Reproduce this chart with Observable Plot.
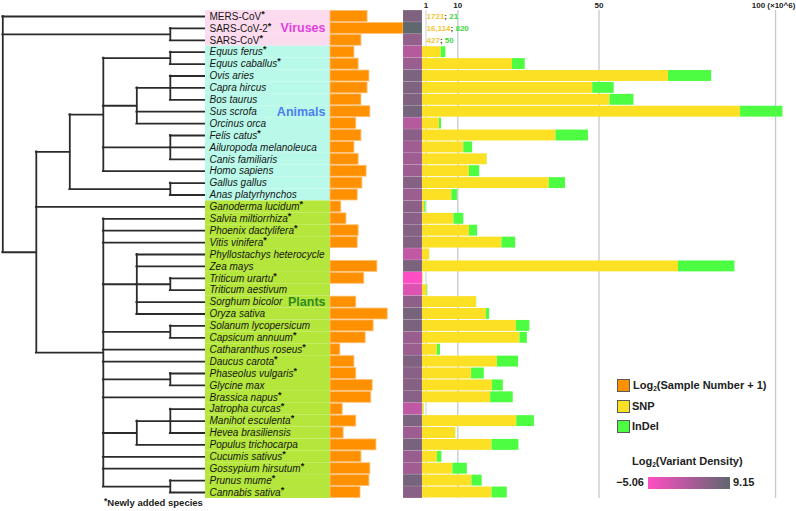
<!DOCTYPE html>
<html><head><meta charset="utf-8">
<script src="https://cdn.jsdelivr.net/npm/d3@7"></script>
<script src="https://cdn.jsdelivr.net/npm/@observablehq/plot@0.6"></script>
<style>
body{margin:0;background:#fff;font-family:"Liberation Sans",Arial,Helvetica,sans-serif;}
#chart{position:relative;width:796px;height:511px;overflow:hidden;}
#chart svg{position:absolute;top:0;}
.lg{position:absolute;font-weight:bold;font-size:11px;line-height:11px;color:#222;white-space:nowrap;}
.lg sub{font-size:6.5px;vertical-align:-2px;line-height:0;}
.sw{position:absolute;width:11px;height:11px;border:1px solid #5a5a5a;}
</style></head>
<body><div id="chart"></div>
<script>
// ---------------- data ----------------
const species = ["MERS-CoV","SARS-CoV-2","SARS-CoV","Equus ferus","Equus caballus","Ovis aries","Capra hircus","Bos taurus","Sus scrofa","Orcinus orca","Felis catus","Ailuropoda melanoleuca","Canis familiaris","Homo sapiens","Gallus gallus","Anas platyrhynchos","Ganoderma lucidum","Salvia miltiorrhiza","Phoenix dactylifera","Vitis vinifera","Phyllostachys heterocycle","Zea mays","Triticum urartu","Triticum aestivum","Sorghum bicolor","Oryza sativa","Solanum lycopersicum","Capsicum annuum","Catharanthus roseus","Daucus carota","Phaseolus vulgaris","Glycine max","Brassica napus","Jatropha curcas","Manihot esculenta","Hevea brasiliensis","Populus trichocarpa","Cucumis sativus","Gossypium hirsutum","Prunus mume","Cannabis sativa"];
const newlyAdded = [1,1,1,1,1, 0,0,0,0,0, 1, 0,0,0,0,0, 1,1,1,1, 0,0, 1, 0,0,0,0, 1,1,1,1, 0, 1,1,1, 0,0, 1,1,1,1];
const groupNames = ["Viruses","Animals","Plants"];
const groupRowCounts = [3,13,25];
const groupLabelAt = ["SARS-CoV-2","Sus scrofa","Sorghum bicolor"];
const groupBg = ["#fcdbee","#b9f9e9","#b4e63b"];
const groupTextColor = ["#e33fe0","#4d7ef0","#2f8a24"];

// log2(sample number + 1)
const sampleLog2 = [7.9,15.6,6.6,5.1,6.0,8.3,7.9,6.6,8.5,5.5,6.6,5.1,6.0,7.7,6.8,5.8,2.3,3.4,6.0,5.8,0,10.0,7.2,0,5.5,12.2,9.2,7.5,2.1,5.1,5.5,9.0,8.7,2.6,5.5,2.8,9.8,6.6,8.5,8.3,6.4];
// log2(variant density)
const densityLog2 = [6.4,9.15,4.5,1.6,4.0,6.6,6.4,6.4,7.2,1.5,5.3,3.4,3.4,3.6,5.6,3.9,5.3,5.2,5.8,6.0,0.5,6.7,-5.06,-2.0,5.0,7.0,6.7,4.0,3.8,6.4,5.4,5.6,5.4,0.5,6.6,3.6,6.9,4.1,3.3,7.0,5.4];
// variant counts (x10^6)
const snpM = [0.001721,0.016114,0.000427,5.3,25.5,69.7,48.2,53.1,90.1,4.8,37.8,11.7,18.3,13.3,35.9,8.3,0.6,8.9,13.3,22.5,2.0,72.5,0.15,1.3,15.3,18.1,26.6,27.6,4.2,21.2,13.9,19.8,19.3,0.4,26.7,9.4,19.7,4.2,8.6,14.0,19.7];
const indelM = [0.000021,0.00082,0.00005,1.3,3.6,12.2,6.1,6.8,12.0,0.6,9.2,2.5,0.05,2.9,4.6,1.6,0.35,2.8,2.3,3.9,0.05,16.0,0.05,0.2,0.05,0.9,3.8,2.1,0.9,6.0,3.6,3.1,6.4,0.1,5.0,0.05,7.6,1.3,4.1,2.9,4.3];
const virusSnpCount = ["1721","16,114","427"];
const virusIndelCount = ["21","820","50"];
const xTicks = [1,10,50,100];
const xTickLabels = ["1","10","50","100 (\u00d710^6)"];

// tree topology
const nodeIds    = ["root","sars","euk","animals","mammals","equus","laur","bovid","carn","birds","plants","grass","triticum","solan","fab","euph","euph2","rosa"];
const nodeParent = [null,"root","root","euk","animals","mammals","mammals","laur","mammals","animals","euk","plants","grass","plants","plants","plants","euph","plants"];
const nodeDepth  = [0,5,1,2,3,5,4,5,5,5,3,4,5,5,5,4,5,5];
const leafParent = ["root","sars","sars","equus","equus","bovid","bovid","bovid","laur","laur","carn","carn","carn","mammals","birds","birds","euk","plants","plants","plants","grass","grass","triticum","triticum","grass","grass","solan","solan","plants","plants","fab","fab","plants","euph2","euph2","euph2","euph","plants","plants","rosa","rosa"];
const leafDepth = 6.05;

// legend
const legendColors = ["#ff9100","#fbe023","#4dfd41"];
const legendLabels = ["Log<sub>2</sub>(Sample Number + 1)","SNP","InDel"];
const densityColors = ["#ff4ec5","#5f676f"];
const densityDomain = [-5.06, 9.15];

// ---------------- layout ----------------
const H = 511, MT = 10.05, MB = 13.05;
const font = '"Liberation Sans", Arial, Helvetica, sans-serif';
const baseStyle = {background:"transparent", fontFamily:font, overflow:"visible"};
const yBand = {domain:species, range:[MT, H-MB], padding:0, axis:null};

const groupOfRow = groupNames.flatMap((g,i)=>Array(groupRowCounts[i]).fill(g));
const rows = species.map((name,i)=>({name, i, label:name+(newlyAdded[i]?"*":""), group:groupOfRow[i],
  sample:sampleLog2[i], density:densityLog2[i], snp:snpM[i], indel:indelM[i]}));

// tree geometry from topology
const children = new Map(nodeIds.map(id=>[id,[]]));
nodeIds.forEach((id,i)=>{ if(nodeParent[i]) children.get(nodeParent[i]).push({node:id}); });
leafParent.forEach((p,i)=>children.get(p).push({leaf:i}));
const nodeInfo = new Map();
function nodeY(id){
  if(nodeInfo.has(id)) return nodeInfo.get(id).y;
  const ys = children.get(id).map(c=>c.node!==undefined?nodeY(c.node):c.leaf);
  const lo=Math.min(...ys), hi=Math.max(...ys);
  nodeInfo.set(id,{y:(lo+hi)/2,lo,hi});
  return (lo+hi)/2;
}
nodeY("root");
const depthOf = new Map(nodeIds.map((id,i)=>[id,nodeDepth[i]]));
const vSegs = nodeIds.map(id=>({x:depthOf.get(id), y1:nodeInfo.get(id).lo, y2:nodeInfo.get(id).hi}));
const hSegs = [];
nodeIds.forEach((id,i)=>{ if(nodeParent[i]) hSegs.push({y:nodeInfo.get(id).y, x1:depthOf.get(nodeParent[i]), x2:nodeDepth[i]}); });
leafParent.forEach((p,i)=>hSegs.push({y:i, x1:depthOf.get(p), x2:leafDepth}));

const chart = document.getElementById("chart");
function place(svg,left){ svg.style.left = left+"px"; chart.appendChild(svg); return svg; }

// 1. tree
const lineStyle = {stroke:"#2b2b2b", strokeWidth:1.8, strokeLinecap:"square"};
place(Plot.plot({width:205, height:H, marginTop:MT, marginBottom:MB, marginLeft:0, marginRight:0, style:baseStyle,
  x:{domain:[0,leafDepth], range:[2.3,205], axis:null},
  y:{type:"linear", domain:[-0.5, species.length-0.5], range:[MT, H-MB], axis:null},
  marks:[
    Plot.ruleY(hSegs,{y:"y", x1:"x1", x2:"x2", ...lineStyle}),
    Plot.ruleX(vSegs,{x:"x", y1:"y1", y2:"y2", ...lineStyle})
  ]}), 0);

// 2. labels panel
const panel = Plot.plot({width:125, height:H, marginTop:MT, marginBottom:MB, marginLeft:0, marginRight:0,
  style:{...baseStyle, fontSize:"10px"},
  x:{axis:null}, y:yBand,
  color:{domain:groupNames, range:groupBg},
  marks:[
    Plot.cell(rows,{y:"name", fill:"group"}),
    Plot.text(rows.filter(d=>d.group==="Viruses"),{y:"name", text:"label", frameAnchor:"left", textAnchor:"start", dx:4, fontSize:10, fill:"#161616"}),
    Plot.text(rows.filter(d=>d.group!=="Viruses"),{y:"name", text:"label", frameAnchor:"left", textAnchor:"start", dx:4, fontSize:10, fill:"#161616", fontStyle:"italic"}),
    ...groupNames.map((g,i)=>Plot.text([g],{y:()=>groupLabelAt[i], text:d=>d, frameAnchor:"right", textAnchor:"end", dx:-5, fontSize:12.5, fontWeight:"bold", fill:groupTextColor[i]}))
  ]});
place(panel,205);

// 3. sample bars
place(Plot.plot({width:91, height:H, marginTop:MT, marginBottom:MB, marginLeft:0, marginRight:16, style:baseStyle,
  x:{domain:[0,16], axis:null}, y:yBand,
  marks:[Plot.barX(rows.filter(d=>d.sample>0),{y:"name", x:"sample", fill:"#ff9100", stroke:"#ffbf73", strokeWidth:0.8, insetTop:0.5, insetBottom:0.5})]
}), 330);

// 4. density heatmap
place(Plot.plot({width:19, height:H, marginTop:MT, marginBottom:MB, marginLeft:0, marginRight:0, style:baseStyle,
  x:{axis:null}, y:yBand,
  color:{type:"linear", domain:densityDomain, range:densityColors, interpolate:"rgb"},
  marks:[Plot.cell(rows,{y:"name", fill:"density", stroke:"#ffffff", strokeOpacity:0.2, strokeWidth:0.5})]
}), 402.5);

// 5. stacked variants
const long = rows.flatMap(d=>[{name:d.name,type:"SNP",value:d.snp},{name:d.name,type:"InDel",value:d.indel}]);
const virusRows = rows.slice(0,3).map((d,i)=>({name:d.name, t:virusSnpCount[i]+"\u00a7"+virusIndelCount[i]}));
const stacked = Plot.plot({width:375, height:H, marginTop:MT, marginBottom:MB, marginLeft:1, marginRight:3.3,
  style:{...baseStyle, fontWeight:"bold", fontSize:"8px", color:"#222"},
  x:{domain:[0,105], axis:"top", ticks:xTicks, tickFormat:d=>xTickLabels[xTicks.indexOf(d)], tickSize:0, tickPadding:2.5, label:null},
  y:yBand,
  color:{domain:["SNP","InDel"], range:[legendColors[1], legendColors[2]]},
  marks:[
    Plot.ruleX(xTicks,{stroke:"#c2cbcb", strokeWidth:d=>d===1?0.9:1.3}),
    Plot.barX(long, Plot.stackX({y:"name", x:"value", fill:"type", order:["SNP","InDel"], insetTop:0.5, insetBottom:0.5})),
    Plot.text(virusRows,{y:"name", x:()=>xTicks[0], text:"t", textAnchor:"start", dx:0.5, fontSize:8, fontWeight:"bold"})
  ]});
place(stacked,421);

// post-processing: superscript asterisks, colored virus counts, keep last tick label inside
const NS = "http://www.w3.org/2000/svg";
panel.querySelectorAll("text").forEach(t=>{
  const s = t.textContent;
  if(s.endsWith("*")){
    t.textContent = s.slice(0,-1);
    const ts = document.createElementNS(NS,"tspan");
    ts.setAttribute("dy","-3"); ts.setAttribute("font-size","9");
    ts.setAttribute("font-style","normal"); ts.setAttribute("font-weight","bold");
    ts.textContent = "*"; t.appendChild(ts);
  }
});
stacked.querySelectorAll("text").forEach(t=>{
  const s = t.textContent;
  if(s.includes("\u00a7")){
    const [a,b] = s.split("\u00a7");
    t.textContent = "";
    [[a,"#f2c631"],["; ","#333"],[b,"#3fd63f"]].forEach(([txt,c])=>{
      const ts = document.createElementNS(NS,"tspan"); ts.setAttribute("fill",c); ts.textContent = txt; t.appendChild(ts);
    });
  }
  if(s === xTickLabels[xTickLabels.length-1]){
    t.setAttribute("dx","-2");
  }
});

// legend (HTML)
const legTops = [380, 400.5, 420.5];
legendLabels.forEach((lab,i)=>{
  const sw = document.createElement("div"); sw.className="sw";
  sw.style.left="617px"; sw.style.top=(legTops[i]-1)+"px"; sw.style.background=legendColors[i];
  chart.appendChild(sw);
  const tx = document.createElement("div"); tx.className="lg";
  tx.style.left=(i===0?633:632)+"px"; tx.style.top=legTops[i]+"px"; tx.innerHTML=lab;
  chart.appendChild(tx);
});
const title = document.createElement("div"); title.className="lg";
title.style.left="632px"; title.style.top="456px"; title.innerHTML="Log<sub>2</sub>(Variant Density)";
chart.appendChild(title);
const ramp = document.createElement("div");
Object.assign(ramp.style,{position:"absolute", left:"648px", top:"477px", width:"82px", height:"12px",
  background:`linear-gradient(to right, ${densityColors[0]}, ${densityColors[1]})`});
chart.appendChild(ramp);
const lo = document.createElement("div"); lo.className="lg";
Object.assign(lo.style,{left:"600px", width:"44px", textAlign:"right", top:"477px"}); lo.textContent="\u22125.06";
chart.appendChild(lo);
const hi = document.createElement("div"); hi.className="lg";
Object.assign(hi.style,{left:"733px", top:"477px"}); hi.textContent=String(densityDomain[1]);
chart.appendChild(hi);
const foot = document.createElement("div"); foot.className="lg";
Object.assign(foot.style,{left:"104px", top:"498px", fontSize:"9.5px", lineHeight:"9px"});
foot.innerHTML = '<span style="font-size:8.5px;position:relative;top:-2px">*</span>Newly added species';
chart.appendChild(foot);
</script>
</body></html>
